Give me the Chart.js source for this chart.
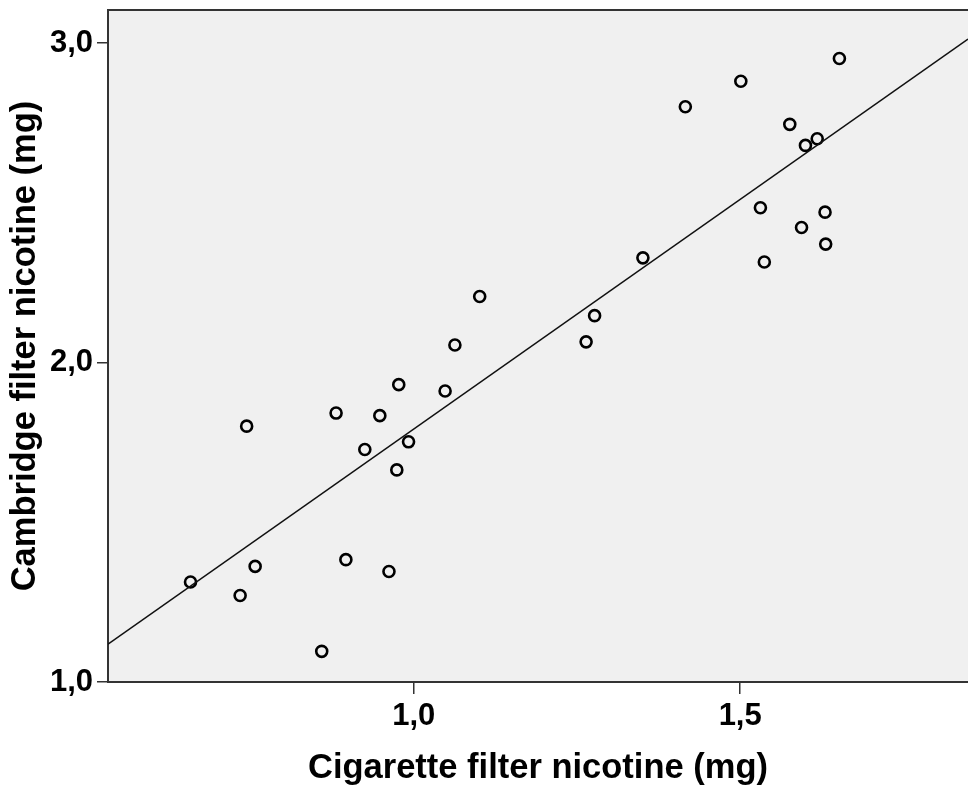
<!DOCTYPE html>
<html>
<head>
<meta charset="utf-8">
<script src="https://cdn.jsdelivr.net/npm/chart.js@4/dist/chart.umd.min.js"></script>
<style>
  html, body { margin: 0; padding: 0; background: #fff; overflow: hidden; }
  #scatter { display: block; width: 968px; height: 788px; }
</style>
</head>
<body>
<canvas id="scatter" width="968" height="788"></canvas>
<script>
// cigarette filter nicotine (mg)
const cigaretteNicotine = [
  0.658, 0.734, 0.757, 0.744, 0.859, 0.881, 0.896, 0.925, 0.948, 0.962,
  0.974, 0.977, 0.992, 1.048, 1.063, 1.101, 1.264, 1.277, 1.351, 1.416,
  1.501, 1.531, 1.537, 1.576, 1.594, 1.600, 1.618, 1.630, 1.631, 1.652
];
// cambridge filter nicotine (mg)
const cambridgeNicotine = [
  1.313, 1.271, 1.362, 1.801, 1.096, 1.842, 1.383, 1.728, 1.834, 1.346,
  1.664, 1.931, 1.752, 1.911, 2.055, 2.207, 2.065, 2.147, 2.328, 2.801,
  2.881, 2.485, 2.315, 2.746, 2.423, 2.680, 2.701, 2.471, 2.371, 2.952
];
const xTicks = [1.0, 1.5];
const yTicks = [1.0, 2.0, 3.0];
// plot is cut at the right edge of the picture
const xRange = [0.5316, 1.849];
const yRange = [1.0, 3.104];
// fit line  y = a + b*x
const fitIntercept = 0.354;
const fitSlope = 1.438;

const FONT = "'Liberation Sans', Arial, sans-serif";
const fmt = v => v.toFixed(1).replace('.', ',');

const points = cigaretteNicotine.map((x, i) => ({ x: x, y: cambridgeNicotine[i] }));
const fitLine = xRange.map(x => ({ x: x, y: fitIntercept + fitSlope * x }));

// no extra room for edge labels, the plot box is fixed
const noPad = scale => {
  scale.paddingLeft = 0;
  scale.paddingRight = 0;
  scale.paddingTop = 0;
  scale.paddingBottom = 0;
};

const plotFrame = {
  id: 'plotFrame',
  beforeDraw(chart) {
    const { ctx, chartArea: a } = chart;
    ctx.save();
    ctx.fillStyle = '#f0f0f0';
    ctx.fillRect(a.left, a.top, a.right - a.left, a.bottom - a.top);
    ctx.restore();
  },
  afterDraw(chart) {
    const { ctx, chartArea: a } = chart;
    ctx.save();
    ctx.strokeStyle = '#333';
    ctx.lineWidth = 2;
    ctx.beginPath();
    ctx.moveTo(a.left, a.top);
    ctx.lineTo(a.right, a.top);
    ctx.stroke();
    ctx.restore();
  }
};

new Chart(document.getElementById('scatter'), {
  type: 'scatter',
  data: {
    datasets: [
      {
        type: 'line',
        data: fitLine,
        borderColor: '#111',
        borderWidth: 1.6,
        pointRadius: 0,
        fill: false
      },
      {
        data: points,
        pointRadius: 5.5,
        pointBorderWidth: 2.6,
        pointBorderColor: '#000',
        pointBackgroundColor: 'rgba(0,0,0,0)'
      }
    ]
  },
  options: {
    responsive: false,
    animation: false,
    devicePixelRatio: 1,
    layout: { autoPadding: false, padding: { top: 10, right: 0, bottom: 0, left: 0 } },
    plugins: { legend: { display: false }, tooltip: { enabled: false } },
    scales: {
      x: {
        type: 'linear',
        min: xRange[0],
        max: xRange[1],
        afterBuildTicks: axis => { axis.ticks = xTicks.map(v => ({ value: v })); },
        afterFit: scale => { scale.height = 106; noPad(scale); },
        border: { display: true, color: '#333', width: 2 },
        grid: { drawOnChartArea: false, drawTicks: true, tickLength: 12, color: '#333', lineWidth: 1.5 },
        ticks: {
          color: '#000',
          padding: 4,
          maxRotation: 0,
          font: { family: FONT, size: 31, weight: 'bold' },
          callback: v => fmt(v)
        },
        title: {
          display: true,
          text: 'Cigarette filter nicotine (mg)',
          color: '#000',
          padding: { top: 0, bottom: 2 },
          font: { family: FONT, size: 34.5, weight: 'bold', lineHeight: 1 }
        }
      },
      y: {
        type: 'linear',
        min: yRange[0],
        max: yRange[1],
        afterBuildTicks: axis => { axis.ticks = yTicks.map(v => ({ value: v })); },
        afterFit: scale => { scale.width = 108; noPad(scale); },
        border: { display: true, color: '#333', width: 2 },
        grid: { drawOnChartArea: false, drawTicks: true, tickLength: 11, color: '#333', lineWidth: 1.5 },
        ticks: {
          color: '#000',
          padding: 4,
          font: { family: FONT, size: 31, weight: 'bold' },
          callback: v => fmt(v)
        },
        title: {
          display: true,
          text: 'Cambridge filter nicotine (mg)',
          color: '#000',
          padding: { top: 5, bottom: 0 },
          font: { family: FONT, size: 34.5, weight: 'bold', lineHeight: 1.2 }
        }
      }
    }
  },
  plugins: [plotFrame]
});
</script>
</body>
</html>
